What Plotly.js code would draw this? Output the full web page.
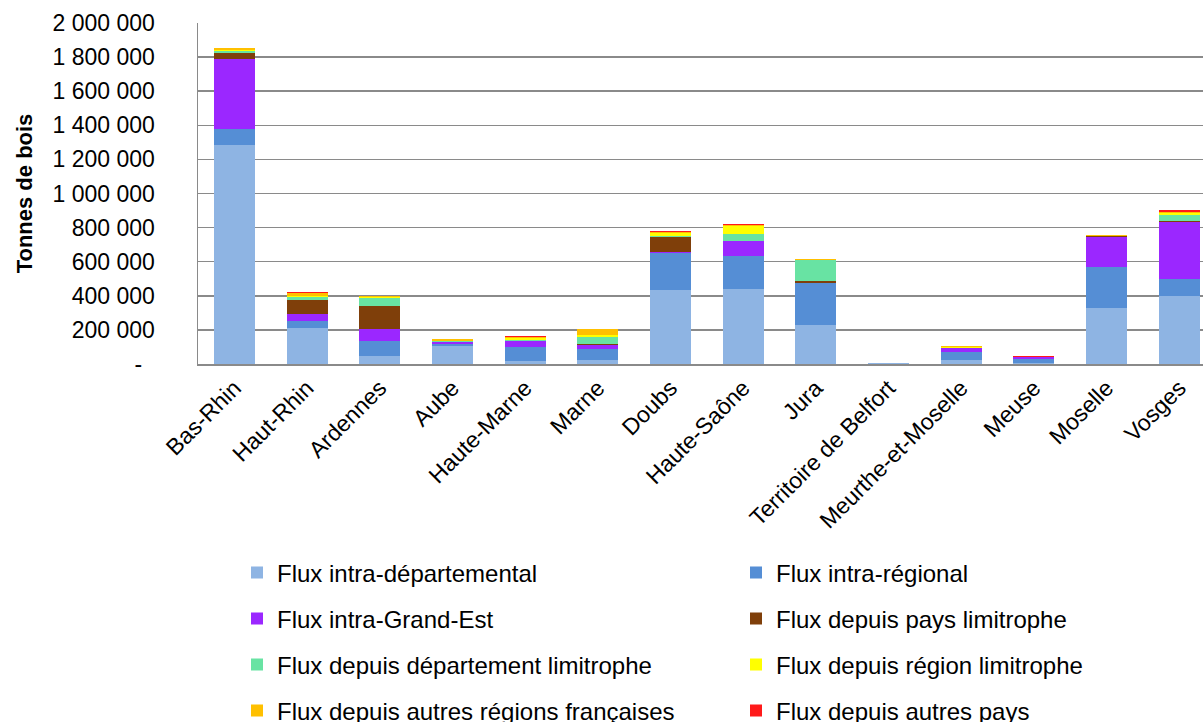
<!DOCTYPE html>
<html>
<head>
<meta charset="utf-8">
<script src="https://cdn.plot.ly/plotly-3.0.1.min.js"></script>
<style>
html, body { margin: 0; padding: 0; background: #fff; overflow: hidden; }
#chart { width: 1203px; height: 722px; }
</style>
</head>
<body>
<div id="chart"></div>
<script>
const categories = ["Bas-Rhin", "Haut-Rhin", "Ardennes", "Aube", "Haute-Marne", "Marne", "Doubs", "Haute-Saône", "Jura", "Territoire de Belfort", "Meurthe-et-Moselle", "Meuse", "Moselle", "Vosges"];

const seriesNames = ["Flux intra-départemental", "Flux intra-régional", "Flux intra-Grand-Est", "Flux depuis pays limitrophe", "Flux depuis département limitrophe", "Flux depuis région limitrophe", "Flux depuis autres régions françaises", "Flux depuis autres pays"];

const intraDept   = [1285000, 209000,  47000, 108000,  18000,  23000, 433000, 439000, 231000, 3000,  22000,  8000, 328000, 400000];
const intraReg    = [  94000,  45000,  86000,   7000,  82000,  67000, 216000, 194000, 243000, 1000,  47000, 20000, 239000,  98000];
const grandEst    = [ 409000,  37000,  70000,  16000,  35000,  23000,  10000,  90000,      0,    0,  25000, 14000, 176000, 337000];
const paysLim     = [  35000,  86000, 139000,      0,      0,   3000,  86000,      0,  12000,    0,      0,     0,  10000,   2000];
const deptLim     = [  12000,  14000,  47000,   2000,   3000,  45000,   8000,  37000, 122000,    0,   2000,     0,      0,  37000];
const regionLim   = [   8000,  10000,   2000,   4000,  17000,  12000,  14000,  49000,   2000,    0,   2000,     0,      0,  14000];
const autresReg   = [   8000,  18000,  10000,  10000,   3000,  31000,  10000,   8000,   6000,    0,   8000,  2000,   2000,   6000];
const autresPays  = [   3000,   6000,      0,      0,   8000,      0,   3000,   4000,      0,    0,      0,  2000,   3000,  10000];

const yTickVals = [0, 200000, 400000, 600000, 800000, 1000000, 1200000, 1400000, 1600000, 1800000, 2000000];
const yTickText = ["-\u00a0\u00a0", "200 000", "400 000", "600 000", "800 000", "1 000 000", "1 200 000", "1 400 000", "1 600 000", "1 800 000", "2 000 000"];

const colors = ["#8EB4E3", "#558ED5", "#9B27FF", "#7F3F0A", "#68E3A3", "#FFFF00", "#FFC000", "#FF1A1A"];
const allSeries = [intraDept, intraReg, grandEst, paysLim, deptLim, regionLim, autresReg, autresPays];

const FONT = "'Liberation Sans', Arial, sans-serif";

// legend grid: 2 columns x 4 rows
const legendColX = [237, 736];
const legendRowY = [573, 619, 665, 711];
const plotL = 198, plotR = 1203, plotT = 23, plotB = 364;
const pw = plotR - plotL, ph = plotB - plotT;

const traces = allSeries.map((vals, i) => ({
  type: 'bar',
  name: seriesNames[i],
  x: categories,
  y: vals,
  marker: { color: colors[i] },
  legend: i === 0 ? 'legend' : 'legend' + (i + 1),
  hoverinfo: 'x+y+name'
}));

const layout = {
  width: 1203,
  height: 722,
  barmode: 'stack',
  bargap: 0.436,
  paper_bgcolor: '#ffffff',
  plot_bgcolor: '#ffffff',
  font: { family: FONT, size: 24, color: '#000000' },
  margin: { l: plotL, r: 1203 - plotR, t: plotT, b: 722 - plotB, pad: 0, autoexpand: false },
  xaxis: {
    type: 'category',
    range: [-0.5, (plotR - plotL) / ((1179.5 - 234.5) / 13) - 0.5],
    autorange: false,
    automargin: false,
    tickangle: -45,
    tickfont: { family: FONT, size: 23, color: '#000' },
    showline: true,
    linecolor: '#8a8a8a',
    linewidth: 1.5,
    ticks: '',
    showgrid: false,
    fixedrange: true
  },
  yaxis: {
    range: [0, 2000000],
    autorange: false,
    automargin: false,
    tickvals: yTickVals,
    ticktext: yTickText,
    tickfont: { family: FONT, size: 23, color: '#000' },
    showgrid: true,
    gridcolor: '#8a8a8a',
    gridwidth: 1.5,
    showline: true,
    linecolor: '#8a8a8a',
    linewidth: 1.5,
    zeroline: false,
    ticks: '',
    ticklabelstandoff: 37,
    title: { text: 'Tonnes de bois', font: { family: FONT, size: 22, color: '#000', weight: 'bold' }, standoff: 14 },
    fixedrange: true
  },
  showlegend: true
};

for (let i = 0; i < 8; i++) {
  const key = i === 0 ? 'legend' : 'legend' + (i + 1);
  const col = i % 2, row = Math.floor(i / 2);
  layout[key] = {
    x: (legendColX[col] - plotL) / pw,
    xanchor: 'left',
    y: (plotB - legendRowY[row]) / ph,
    yanchor: 'middle',
    orientation: 'v',
    font: { family: FONT, size: 24, color: '#000' },
    bgcolor: 'rgba(0,0,0,0)',
    borderwidth: 0
  };
}

Plotly.newPlot('chart', traces, layout, { displayModeBar: false, staticPlot: true });
</script>
</body>
</html>
